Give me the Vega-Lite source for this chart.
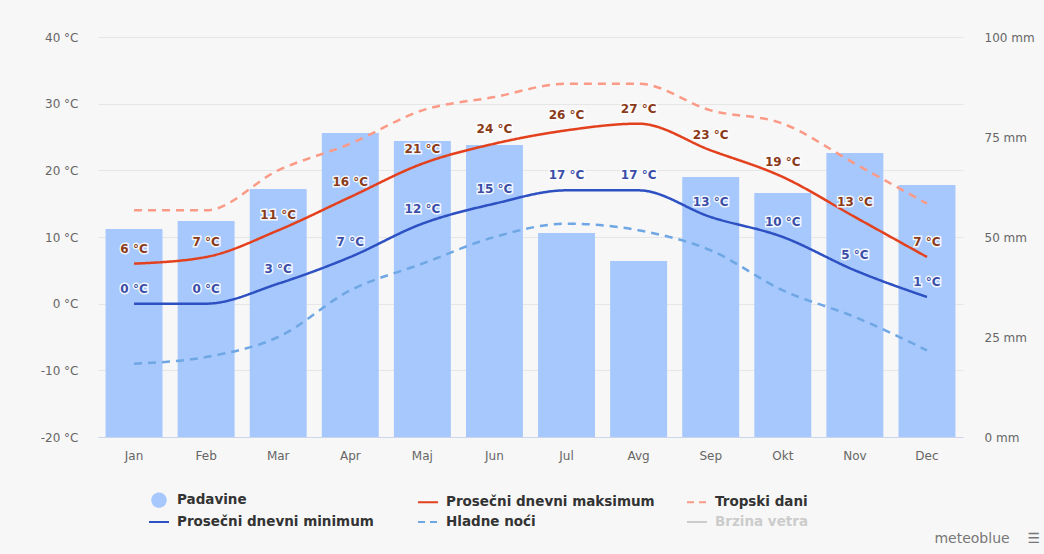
{
  "$schema": "https://vega.github.io/schema/vega-lite/v6.json",
  "width": 865,
  "height": 400,
  "autosize": "none",
  "padding": {"left": 98, "top": 37, "right": 81, "bottom": 117},
  "background": "#f7f7f7",
  "config": {"view": {"stroke": null}, "font": "DejaVu Sans"},
  "title": {"text": "meteoblue\u00a0\u00a0\u00a0\u00a0☰", "orient": "bottom", "anchor": "end", "frame": "group", "fontSize": 14, "fontWeight": "normal", "color": "#777777", "offset": 3, "dx": 77},
  "data": {"values": [
    {"month": "Jan", "precip": 52, "tmax": 6, "tmin": 0, "hot": 14, "cold": -9},
    {"month": "Feb", "precip": 54, "tmax": 7, "tmin": 0, "hot": 14, "cold": -8},
    {"month": "Mar", "precip": 62, "tmax": 11, "tmin": 3, "hot": 20, "cold": -5},
    {"month": "Apr", "precip": 76, "tmax": 16, "tmin": 7, "hot": 24, "cold": 2},
    {"month": "Maj", "precip": 74, "tmax": 21, "tmin": 12, "hot": 29, "cold": 6},
    {"month": "Jun", "precip": 73, "tmax": 24, "tmin": 15, "hot": 31, "cold": 10},
    {"month": "Jul", "precip": 51, "tmax": 26, "tmin": 17, "hot": 33, "cold": 12},
    {"month": "Avg", "precip": 44, "tmax": 27, "tmin": 17, "hot": 33, "cold": 11},
    {"month": "Sep", "precip": 65, "tmax": 23, "tmin": 13, "hot": 29, "cold": 8},
    {"month": "Okt", "precip": 61, "tmax": 19, "tmin": 10, "hot": 27, "cold": 2},
    {"month": "Nov", "precip": 71, "tmax": 13, "tmin": 5, "hot": 21, "cold": -2},
    {"month": "Dec", "precip": 63, "tmax": 7, "tmin": 1, "hot": 15, "cold": -7}
  ]},
  "encoding": {
    "x": {
      "field": "month", "type": "nominal",
      "sort": ["Jan", "Feb", "Mar", "Apr", "Maj", "Jun", "Jul", "Avg", "Sep", "Okt", "Nov", "Dec"],
      "scale": {"paddingInner": 0.21, "paddingOuter": 0.105},
      "axis": {"title": null, "labelAngle": 0, "labelColor": "#666666", "labelFontSize": 12, "labelPadding": 13, "ticks": false, "domainColor": "#ccd6eb", "grid": false}
    }
  },
  "layer": [
    {
      "mark": {"type": "bar"},
      "encoding": {
        "y": {"field": "precip", "type": "quantitative", "scale": {"domain": [0, 100]},
          "axis": {"title": null, "orient": "right", "values": [0, 25, 50, 75, 100], "labelExpr": "datum.value + ' mm'", "grid": false, "domain": false, "ticks": false, "labelPadding": 21, "labelColor": "#666666", "labelFontSize": 12}},
        "color": {
          "datum": "precip", "type": "nominal", "title": null,
          "scale": {"domain": ["precip", "tmax", "hot", "tmin", "cold", "wind"], "range": ["#a6c8fd", "#e3401d", "#fb9a86", "#2d50c2", "#6ea7e3", "#cccccc"]},
          "legend": {
            "orient": "none", "legendX": 50, "legendY": 452, "title": null, "columns": 3, "direction": "horizontal",
            "gridAlign": "all", "columnPadding": 28, "rowPadding": 0, "padding": 0,
            "symbolSize": 400, "symbolStrokeWidth": 2,
            "labelFont": "DejaVu Sans", "labelFontSize": 13.5, "labelFontWeight": "bold", "labelColor": "#333333", "labelOffset": 7, "labelLimit": 400,
            "labelExpr": "datum.value === 'precip' ? 'Padavine' : datum.value === 'tmax' ? 'Prosečni dnevni maksimum' : datum.value === 'hot' ? 'Tropski dani' : datum.value === 'tmin' ? 'Prosečni dnevni minimum' : datum.value === 'cold' ? 'Hladne noći' : 'Brzina vetra'",
            "encode": {
              "symbols": {"update": {
                "shape": {"signal": "datum.value === 'precip' ? 'circle' : 'stroke'"},
                "size": {"signal": "datum.value === 'precip' ? 180 : 400"},
                "strokeDash": {"signal": "(datum.value === 'hot' || datum.value === 'cold') ? [7, 5] : [1, 0]"},
                "strokeWidth": {"value": 2},
                "opacity": {"value": 1},
                "fill": {"signal": "datum.value === 'precip' ? '#a6c8fd' : 'transparent'"},
                "stroke": {"signal": "datum.value === 'precip' ? 'transparent' : datum.value === 'tmax' ? '#e3401d' : datum.value === 'hot' ? '#fb9a86' : datum.value === 'tmin' ? '#2d50c2' : datum.value === 'cold' ? '#6ea7e3' : '#cccccc'"}
              }},
              "labels": {"update": {"fill": {"signal": "datum.value === 'wind' ? '#cccccc' : '#333333'"}}}
            }
          }
        }
      }
    },
    {
      "transform": [{"fold": ["tmax", "tmin", "hot", "cold"]}],
      "encoding": {
        "y": {"field": "value", "type": "quantitative", "scale": {"domain": [-20, 40]},
          "axis": {"title": null, "orient": "left", "values": [-20, -10, 0, 10, 20, 30, 40], "labelExpr": "datum.value + ' °C'", "grid": true, "gridColor": "#e6e6e6", "domain": false, "ticks": false, "labelPadding": 20, "labelColor": "#666666", "labelFontSize": 12}}
      },
      "layer": [
        {
          "mark": {"type": "line", "interpolate": "monotone"},
          "encoding": {
            "color": {"field": "key", "type": "nominal", "title": null},
            "strokeDash": {"field": "key", "type": "nominal", "scale": {"domain": ["tmax", "tmin", "hot", "cold"], "range": [[1, 0], [1, 0], [8, 6], [8, 6]]}, "legend": null},
            "strokeWidth": {"field": "key", "type": "nominal", "scale": {"domain": ["tmax", "tmin", "hot", "cold"], "range": [2.5, 2.5, 2, 2]}, "legend": null}
          }
        },
        {
          "transform": [{"filter": "datum.key === 'tmax' || datum.key === 'tmin'"}],
          "mark": {"type": "text", "dy": -15, "fontSize": 12, "fontWeight": "bold", "stroke": "white", "strokeWidth": 3, "strokeOpacity": 0.85, "fill": "white", "text": {"expr": "datum.value + ' °C'"}}
        },
        {
          "transform": [{"filter": "datum.key === 'tmax' || datum.key === 'tmin'"}],
          "mark": {"type": "text", "dy": -15, "fontSize": 12, "fontWeight": "bold", "fill": {"expr": "datum.key === 'tmax' ? '#8a3a18' : '#3a4ea8'"}, "text": {"expr": "datum.value + ' °C'"}}
        }
      ]
    }
  ],
  "resolve": {"scale": {"y": "independent"}}
}
